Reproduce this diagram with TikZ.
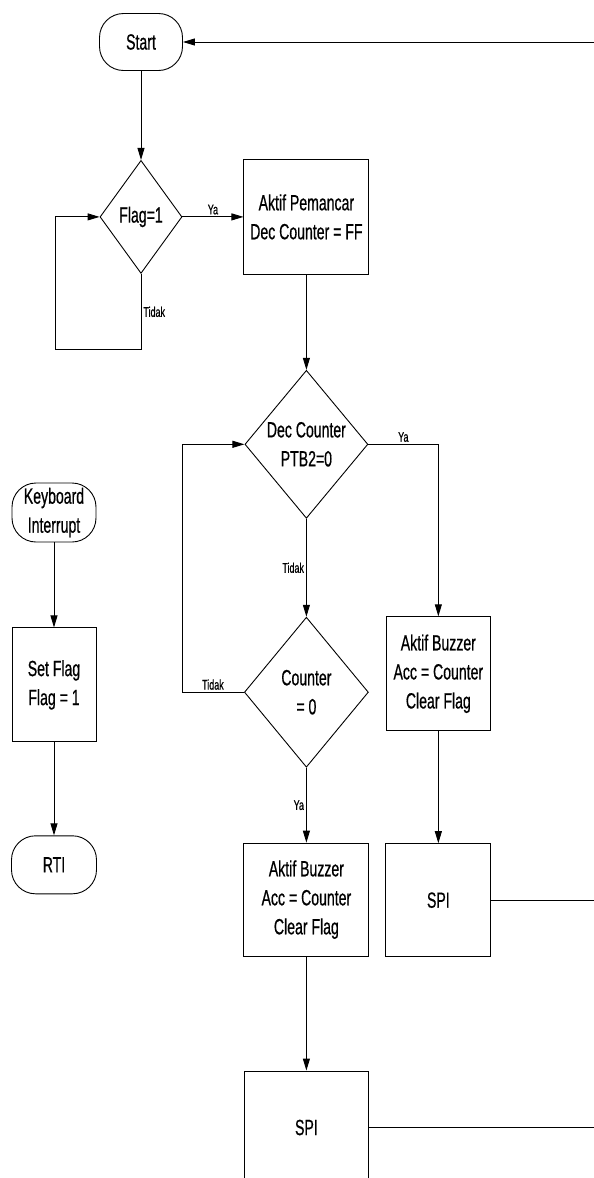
\documentclass[tikz,border=0pt]{standalone}
\usepackage{fontspec}
\setmainfont{Liberation Sans}[FakeStretch=0.64, FakeBold=0.6]
\usetikzlibrary{positioning,arrows.meta,shapes.geometric}

\begin{document}
\begin{tikzpicture}[
  x=1pt, y=1pt,
  line width=0.9pt,
  font=\fontsize{22}{29}\selectfont,
  term/.style={draw, rounded corners=24pt, align=center, inner sep=0pt},
  box/.style={draw, align=center, inner sep=0pt},
  decision/.style={draw, diamond, align=center, inner sep=0pt, shape aspect=0.83},
  lbl/.style={font=\fontsize{14}{15}\selectfont, inner sep=2pt},
  arrow/.style={-{Triangle[length=12pt,width=7pt]}}
]
\useasboundingbox (0,0) rectangle (594,-1178);
\clip (0,0) rectangle (594,-1178);
\coordinate (edge) at (594,0);

% main program
\node[term, minimum width=83pt, minimum height=57pt] (start) at (141,-42) {Start};
\node[decision, minimum width=82pt, minimum height=113pt, below=89pt of start] (flag) {Flag=1};
\node[box, minimum width=125pt, minimum height=115pt, right=61pt of flag] (pemancar) {Aktif Pemancar\\Dec Counter = FF};
\node[decision, minimum width=123pt, minimum height=148pt, below=95pt of pemancar] (dec) {Dec Counter\\PTB2=0};
\node[decision, minimum width=124pt, minimum height=150pt, below=98pt of dec] (counter) {Counter\\= 0};
\node[box, minimum width=104pt, minimum height=114pt, below=172pt of dec.east, xshift=70pt] (buzzR) {Aktif Buzzer\\Acc = Counter\\Clear Flag};
\node[box, minimum width=105pt, minimum height=113pt, below=112pt of buzzR] (spiR) {SPI};
\node[box, minimum width=125pt, minimum height=113pt, below=75pt of counter] (buzzM) {Aktif Buzzer\\Acc = Counter\\Clear Flag};
\node[box, minimum width=124pt, minimum height=113pt, below=114pt of buzzM] (spiM) {SPI};

% interrupt routine
\node[term, minimum width=84pt, minimum height=59pt] (kbd) at (54,-512.5) {Keyboard\\Interrupt};
\node[box, minimum width=84pt, minimum height=114pt, below=85pt of kbd] (setflag) {Set Flag\\Flag = 1};
\node[term, minimum width=85pt, minimum height=58pt, below=93pt of setflag] (rti) {RTI};

\draw[arrow] (start.east -| edge) -- (start.east);
\draw[arrow] (start) -- (flag);
\draw[arrow] (flag.south) -- ++(0,-76) node[lbl, midway, right] (flagno) {Tidak}
  -| ([xshift=-44pt]flag.west) -- (flag.west);
\draw[arrow] (flag) -- (pemancar) node[lbl, midway, above] (flagyes) {Ya};
\draw[arrow] (pemancar) -- (dec);
\draw[arrow] (dec.east) -| (buzzR.north) node[lbl, pos=0.25, above] (decyes) {Ya};
\draw[arrow] (dec.south) -- (counter.north) node[lbl, midway, left] (decno) {Tidak};
\draw[arrow] (counter.west) -- ++(-62,0) node[lbl, midway, above] (counterno) {Tidak}
  |- (dec.west);
\draw[arrow] (counter.south) -- (buzzM.north) node[lbl, midway, left] (counteryes) {Ya};
\draw[arrow] (buzzR) -- (spiR);
\draw[arrow] (buzzM) -- (spiM);
\draw (spiR.east) -- (spiR.east -| edge);
\draw (spiM.east) -- (spiM.east -| edge);
\draw[arrow] (kbd) -- (setflag);
\draw[arrow] (setflag) -- (rti);
\end{tikzpicture}
\end{document}
